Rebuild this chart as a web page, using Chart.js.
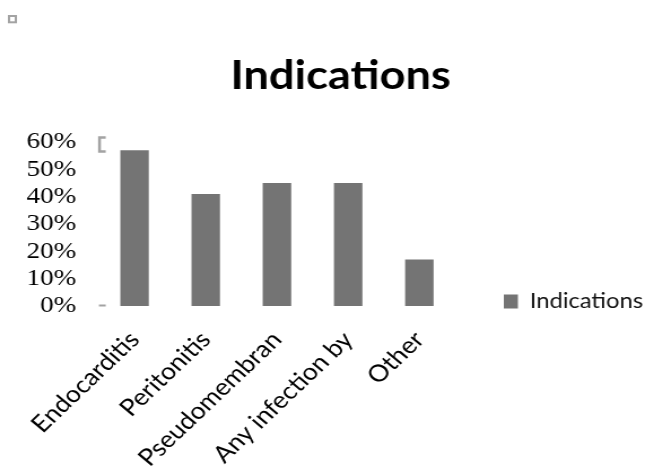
<!DOCTYPE html>
<html>
<head>
<meta charset="utf-8">
<script src="https://cdn.jsdelivr.net/npm/chart.js@4/dist/chart.umd.min.js"></script>
<style>
  html, body { margin: 0; padding: 0; background: #ffffff; }
  #chart { display: block; width: 645px; height: 468px; }
</style>
</head>
<body>
<canvas id="chart" width="571" height="468" style="width:645px;height:468px;"></canvas>
<script>
// Share of cases per indication
const categories = ['Endocarditis', 'Peritonitis', 'Pseudomembran', 'Any infection by', 'Other'];
const indications = [57, 41, 45, 45, 17];
const yTickLabels = ['0%', '10%', '20%', '30%', '40%', '50%', '60%'];
const seriesName = 'Indications';

const barColor = '#747474';
const ghostGray = '#a3a3a3';

// Moves the title and legend boxes after layout: the title is centred over
// the plot plus legend, the legend sits level with the bottom of the bars
const boxPlacement = {
  id: 'boxPlacement',
  afterLayout(chart) {
    const t = chart.titleBlock;
    if (t) {
      const tx = 301.5 - (t.left + t.right) / 2;
      t.left += tx; t.right += tx;
    }
    const lg = chart.legend;
    if (lg) {
      const dx = 436 - lg.left;
      const dy = 322 - lg.bottom;
      lg.left += dx; lg.right += dx;
      lg.top += dy; lg.bottom += dy;
    }
  }
};

// Faint leftover frame marks around the axis
const frameMarks = {
  id: 'frameMarks',
  afterDraw(chart) {
    const ctx = chart.ctx;
    const area = chart.chartArea;
    const yTop = chart.scales.y.getPixelForValue(60);
    ctx.save();
    ctx.strokeStyle = ghostGray;
    ctx.fillStyle = ghostGray;
    ctx.lineWidth = 2.5;
    ctx.beginPath();
    ctx.moveTo(area.left + 6, yTop - 4.5);
    ctx.lineTo(area.left + 0.5, yTop - 4.5);
    ctx.lineTo(area.left + 0.5, yTop + 9.5);
    ctx.lineTo(area.left + 6, yTop + 9.5);
    ctx.stroke();
    ctx.fillRect(area.left, area.bottom - 1.5, 6, 2);
    ctx.lineWidth = 2;
    ctx.strokeRect(8, 16, 6, 6.3);
    ctx.restore();
  }
};

new Chart(document.getElementById('chart'), {
  type: 'bar',
  data: {
    labels: categories,
    datasets: [{
      label: seriesName,
      data: indications,
      backgroundColor: barColor,
      borderWidth: 0,
      barPercentage: 0.4,
      categoryPercentage: 1.0
    }]
  },
  options: {
    responsive: false,
    animation: false,
    devicePixelRatio: 1,
    layout: { padding: { left: 0, right: 34, top: 0, bottom: 0 } },
    plugins: {
      title: {
        display: true,
        text: 'Indications',
        color: '#000000',
        font: { family: 'Lato', weight: 'bold', size: 40, lineHeight: 1.2 },
        padding: { top: 52, bottom: 42 }
      },
      legend: {
        display: true,
        position: 'right',
        align: 'end',
        labels: {
          color: '#111111',
          font: { family: 'Lato', size: 21 },
          boxWidth: 12.5,
          boxHeight: 14,
          padding: 10
        }
      },
      tooltip: { enabled: false }
    },
    scales: {
      x: {
        grid: { display: false, drawTicks: false },
        border: { display: false },
        ticks: {
          color: '#000000',
          font: { family: 'Lato', size: 23.5 },
          minRotation: 47,
          maxRotation: 47,
          autoSkip: false,
          padding: 20
        },
        afterFit(scale) { scale.height = 162; }
      },
      y: {
        min: 0,
        max: 60,
        grid: { display: false, drawTicks: false },
        border: { display: false },
        ticks: {
          stepSize: 10,
          autoSkip: false,
          color: '#000000',
          font: { family: 'Liberation Serif', size: 24 },
          padding: 20,
          callback: (v, i) => yTickLabels[i]
        },
        afterFit(scale) { scale.width = 87.6; }
      }
    }
  },
  plugins: [boxPlacement, frameMarks]
});
</script>
</body>
</html>
